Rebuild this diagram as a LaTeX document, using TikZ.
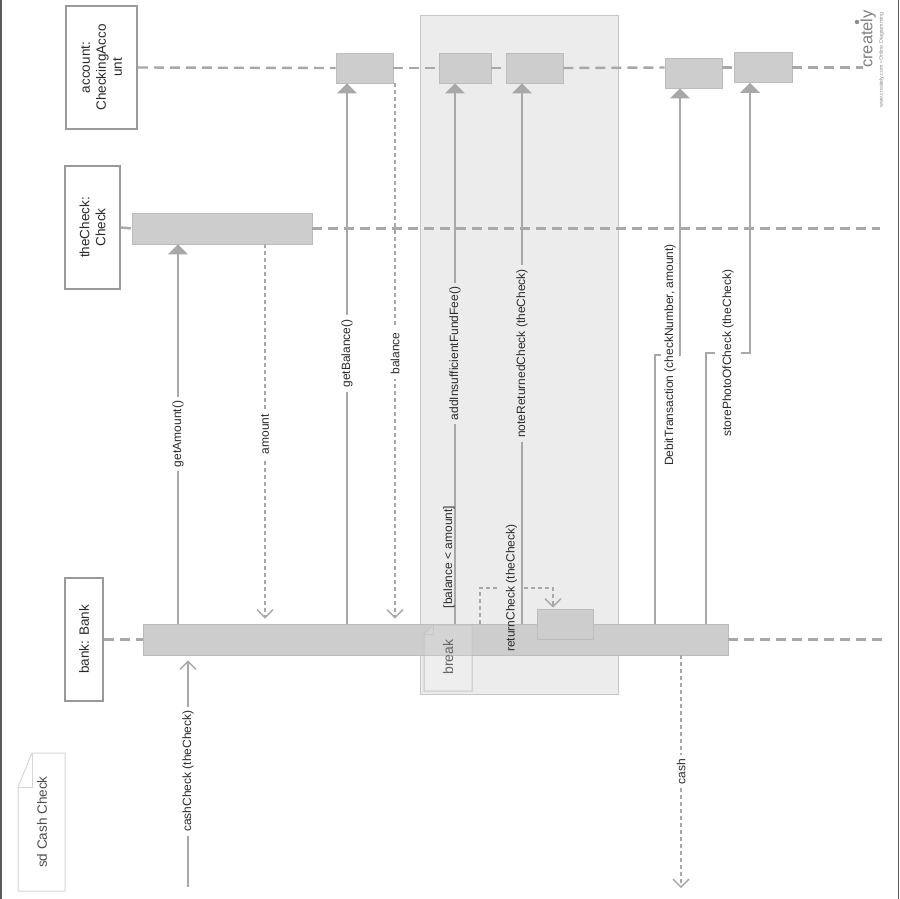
\documentclass[tikz,border=0pt]{standalone}
\usepackage{fontspec}
\setmainfont{Liberation Sans}
\usetikzlibrary{arrows.meta}
\definecolor{ln}{HTML}{A8A8A8}
\definecolor{act}{HTML}{CDCDCD}
\definecolor{actb}{HTML}{BCBCBC}
\definecolor{brk}{HTML}{ECECEC}
\definecolor{brkb}{HTML}{C6C6C6}
\definecolor{txt}{HTML}{2B2B2B}
\definecolor{hdrb}{HTML}{9A9A9A}
\definecolor{frm}{HTML}{5C5C5C}
\definecolor{notec}{HTML}{D6D6D6}
\begin{document}
\begin{tikzpicture}[x=1pt,y=-1pt,
  hdr/.style={draw=hdrb,line width=1.6pt,fill=white,text=txt,font=\fontsize{13.5}{16}\selectfont,align=center,inner sep=0pt,rotate=90},
  actbox/.style={draw=actb,line width=0.8pt,fill=act,inner sep=0pt},
  life/.style={draw=ln,line width=2.4pt,dash pattern=on 10pt off 6pt},
  msg/.style={draw=ln,line width=1.4pt,-{Triangle[width=20pt,length=10pt]}},
  call/.style={draw=ln,line width=1.4pt,-{Straight Barb[width=16pt,length=8pt]}},
  ret/.style={draw=ln,line width=1.4pt,dash pattern=on 4pt off 3pt,-{Straight Barb[width=16pt,length=8pt]}},
  retline/.style={draw=ln,line width=1.4pt,dash pattern=on 4pt off 3pt},
  lbl/.style={rotate=90,fill=white,text=txt,font=\fontsize{12}{14}\selectfont,inner xsep=4pt,inner ysep=6pt},
  lblb/.style={lbl,fill=brk},
  plain/.style={rotate=90,text=txt,font=\fontsize{12}{14}\selectfont,inner sep=0pt},
  fragline/.style={draw=notec,line width=1pt}
]
\useasboundingbox (0,0) rectangle (900,899);
\fill[white] (0,0) rectangle (900,899);
\draw[frm,line width=2pt] (1,0) -- (1,899);
\draw[frm,line width=1.5pt] (898.5,0) -- (898.5,899);

% break fragment region
\draw[draw=brkb,fill=brk,line width=1pt] (420,16) rectangle (618,694);

% lifeline heads
\node[hdr,minimum width=123pt,minimum height=71pt] (acc) at (101.5,67.5) {account:\\CheckingAcco\\unt};
\node[hdr,minimum width=123pt,minimum height=55pt] (chk) at (92.5,227.5) {theCheck:\\Check};
\node[hdr,minimum width=123pt,minimum height=38pt] (bank) at (84,639.5) {bank: Bank};

% activations
\node[actbox,minimum width=585pt,minimum height=31pt] (bankact) at (435.5,639.5) {};
\node[actbox,minimum width=180pt,minimum height=31pt] (chkact) at (222,228.5) {};
\node[actbox,minimum width=57pt,minimum height=30pt] (a1) at (364.5,68) {};
\node[actbox,minimum width=52pt,minimum height=30pt] (a2) at (465,68) {};
\node[actbox,minimum width=57pt,minimum height=30pt] (a3) at (534.5,68) {};
\node[actbox,minimum width=57pt,minimum height=30pt] (a4) at (693.5,73) {};
\node[actbox,minimum width=58pt,minimum height=30pt] (a5) at (763,67.5) {};

% lifelines
\draw[life] (acc.south) -- (a1.west);
\draw[life] (a1.east) -- (a2.west);
\draw[life] (a2.east) -- (a3.west);
\draw[life] (a3.east) -- (acc.south -| a4.west);
\draw[life] (acc.south -| a4.east) -- (a5.west);
\draw[life] (a5.east) -- (acc.south -| 863,0);
\draw[life] (chk.south) -- (chkact.west);
\draw[life] (chkact.east) -- (chkact.east -| 880,0);
\draw[life] (bank.south) -- (bankact.west);
\draw[life] (bankact.east) -- (bankact.east -| 882,0);

% self-call activation
\node[actbox,minimum width=56pt,minimum height=30pt] (rcact) at (565,624) {};

% messages
\coordinate (cstart) at (188,887);
\draw[call,shorten >=5pt] (cstart) -- node[lbl]{cashCheck (theCheck)} (bankact.south -| cstart);
\draw[msg] (bankact.north -| 178,0) -- node[lbl]{getAmount()} (chkact.south -| 178,0);
\draw[ret,shorten >=5pt] (chkact.south -| 265,0) -- node[lbl]{amount} (bankact.north -| 265,0);
\draw[msg] (bankact.north -| 347,0) -- node[lbl]{getBalance()} (a1.south -| 347,0);
\draw[ret,shorten >=5pt] (a1.south -| 395,0) -- node[lbl]{balance} (bankact.north -| 395,0);
\draw[msg] (bankact.north -| 455,0) -- node[lblb]{addInsufficientFundFee()} (a2.south -| 455,0);
\draw[msg] (bankact.north -| 522,0) -- node[lblb]{noteReturnedCheck (theCheck)} (a3.south -| 522,0);

% self call returnCheck
\node[plain,inner xsep=0pt,inner ysep=7pt] (rcl) at (511.5,588) {returnCheck (theCheck)};
\draw[retline] (bankact.north -| 480,0) -- (480,588) -- (rcl.north);
\draw[ret,shorten >=1pt] (rcl.south) -- (553,588) -- (rcact.north -| 553,0);

% elbow messages
\draw[msg] (bankact.north -| 655,0) -- (655,355) -- (680,355) -- (a4.south -| 680,0);
\node[lbl,inner ysep=3pt] (dtl) at (670,355) {DebitTransaction (checkNumber, amount)};
\node[lbl,inner ysep=7pt] (spl) at (728,353) {storePhotoOfCheck (theCheck)};
\draw[draw=ln,line width=1.4pt] (bankact.north -| 706,0) -- (706,353) -- (spl.north);
\draw[msg] (spl.south) -- (750,353) -- (a5.south -| 750,0);

\draw[ret] (bankact.south -| 681,0) -- node[lbl]{cash} (681,888);

% break label and guard
\draw[draw=brkb,line width=1pt,fill=white,fill opacity=0.15] (424,634) -- (433,625) -- (472,625) -- (472,691) -- (424,691) -- cycle;
\draw[draw=brkb,line width=0.8pt] (424,634) -- (433,634) -- (433,625);
\node[plain,text=black!60,font=\fontsize{14}{16}\selectfont] (brklbl) at (448,657) {break};
\node[plain] (guard) at (449,557) {[balance < amount]};

% frame label note
\draw[fragline] (18,787) -- (32,753) -- (65,753) -- (65,891) -- (18,891) -- cycle;
\draw[fragline] (18,787) -- (32,787) -- (32,753);
\node[plain,text=black!70,font=\fontsize{13.5}{16}\selectfont] (sd) at (42,822) {sd Cash Check};

% creately mark
\node[rotate=90,text=black!50,font=\fontsize{16.5}{18}\selectfont,inner sep=0pt] (logo) at (868,39) {creately};
\fill[black!45] (857,22) circle (2.2pt);
\node[rotate=90,text=black!45,font=\fontsize{5.3}{6}\selectfont,inner sep=0pt] (tag) at (881.5,60) {www.creately.com • Online Diagramming};
\end{tikzpicture}
\end{document}
